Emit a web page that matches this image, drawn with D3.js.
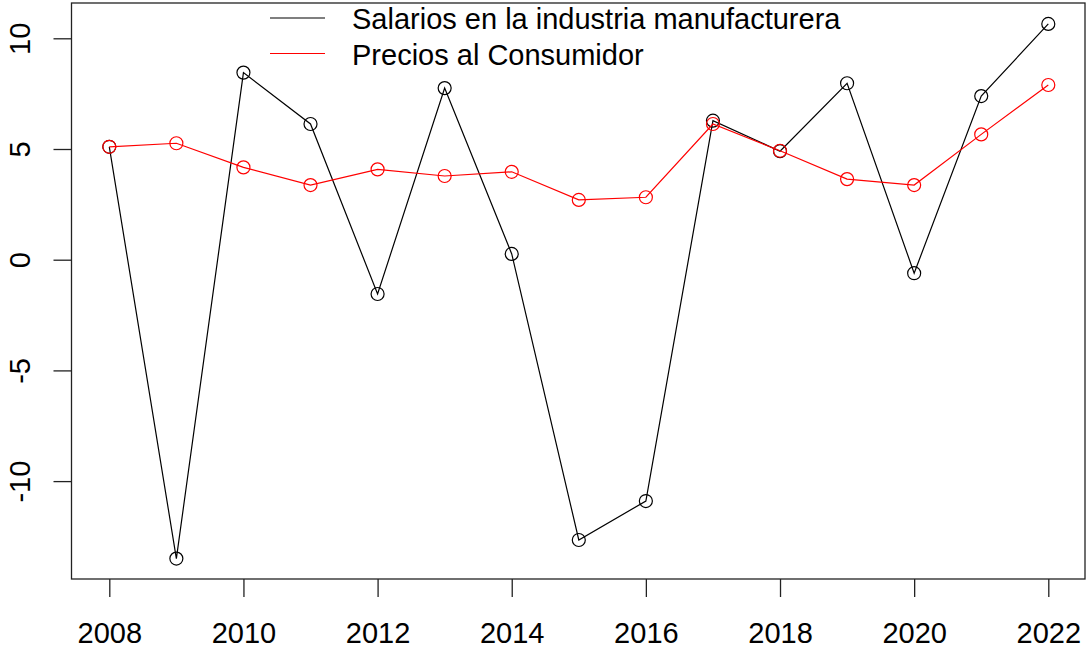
<!DOCTYPE html>
<html>
<head>
<meta charset="utf-8">
<script src="https://cdn.jsdelivr.net/npm/d3@7"></script>
<style>
  body { margin: 0; background: #fff; }
  text { font-family: "Liberation Sans", Arial, sans-serif; fill: #000; }
</style>
</head>
<body>
<div id="chart"></div>
<script>
var years = [2008, 2009, 2010, 2011, 2012, 2013, 2014, 2015, 2016, 2017, 2018, 2019, 2020, 2021, 2022];
var salarios = [5.1, -13.5, 8.45, 6.13, -1.55, 7.75, 0.26, -12.66, -10.9, 6.28, 4.9, 7.97, -0.61, 7.39, 10.65];
var precios = [5.1, 5.26, 4.17, 3.37, 4.08, 3.78, 3.97, 2.7, 2.82, 6.13, 4.92, 3.64, 3.37, 5.66, 7.89];
var xTicks = [2008, 2010, 2012, 2014, 2016, 2018, 2020, 2022];
var yTicks = [-10, -5, 0, 5, 10];
var seriesNames = ["Salarios en la industria manufacturera", "Precios al Consumidor"];
var seriesColors = ["#000000", "#ff0000"];

var svgWidth = 1086;
var svgHeight = 651;
var fontSize = 29;

// plot box
var box = { left: 71.5, right: 1085, top: 3, bottom: 579 };

var svg = d3.select("#chart")
  .append("svg")
  .attr("width", svgWidth)
  .attr("height", svgHeight);

var x = d3.scaleLinear()
  .domain([2008, 2022])
  .range([109.3, 1048.3]);

var y = d3.scaleLinear()
  .domain([0, 10])
  .range([259.7, 38.3]);

// frame
svg.append("rect")
  .attr("x", box.left)
  .attr("y", box.top)
  .attr("width", box.right - box.left)
  .attr("height", box.bottom - box.top)
  .attr("fill", "none")
  .attr("stroke", "#222")
  .attr("stroke-width", 1.3);

// x axis
var xAxis = svg.append("g")
  .attr("transform", `translate(0, ${box.bottom})`)
  .call(d3.axisBottom(x).tickValues(xTicks).tickFormat(d => String(d)).tickSize(18).tickPadding(25));
xAxis.select(".domain").remove();
xAxis.selectAll("line").attr("stroke", "#222").attr("stroke-width", 1.3);
xAxis.selectAll("text")
  .style("font-family", "'Liberation Sans', Arial, sans-serif")
  .attr("font-size", fontSize)
  .attr("fill", "#000");

// y axis (labels rotated, like R's default), plain hyphen for minus
var yAxis = svg.append("g")
  .attr("transform", `translate(${box.left}, 0)`)
  .call(d3.axisLeft(y).tickValues(yTicks).tickSize(18).tickFormat(d => String(d)));
yAxis.select(".domain").remove();
yAxis.selectAll("line").attr("stroke", "#222").attr("stroke-width", 1.3);
yAxis.selectAll("text")
  .style("font-family", "'Liberation Sans', Arial, sans-serif")
  .attr("font-size", fontSize)
  .attr("fill", "#000")
  .attr("x", null)
  .attr("dy", null)
  .attr("text-anchor", "middle")
  .attr("transform", "translate(-42, 0) rotate(-90)");

var line = d3.line()
  .x((d, i) => x(years[i]))
  .y(d => y(d));

[salarios, precios].forEach(function(series, k) {
  svg.append("path")
    .datum(series)
    .attr("d", line)
    .attr("fill", "none")
    .attr("stroke", seriesColors[k])
    .attr("stroke-width", 1.2);

  svg.append("g")
    .selectAll("circle")
    .data(series)
    .enter()
    .append("circle")
    .attr("cx", (d, i) => x(years[i]))
    .attr("cy", d => y(d))
    .attr("r", 6.5)
    .attr("fill", "none")
    .attr("stroke", seriesColors[k])
    .attr("stroke-width", 1.2);
});

// legend (no box)
var legend = svg.append("g");
seriesNames.forEach(function(name, k) {
  var ly = 18 + k * 35.5;
  legend.append("line")
    .attr("x1", 270).attr("x2", 325)
    .attr("y1", ly).attr("y2", ly)
    .attr("stroke", seriesColors[k])
    .attr("stroke-width", 1.2);
  legend.append("text")
    .attr("x", 352)
    .attr("y", ly + 11)
    .attr("font-size", fontSize)
    .text(name);
});
</script>
</body>
</html>
